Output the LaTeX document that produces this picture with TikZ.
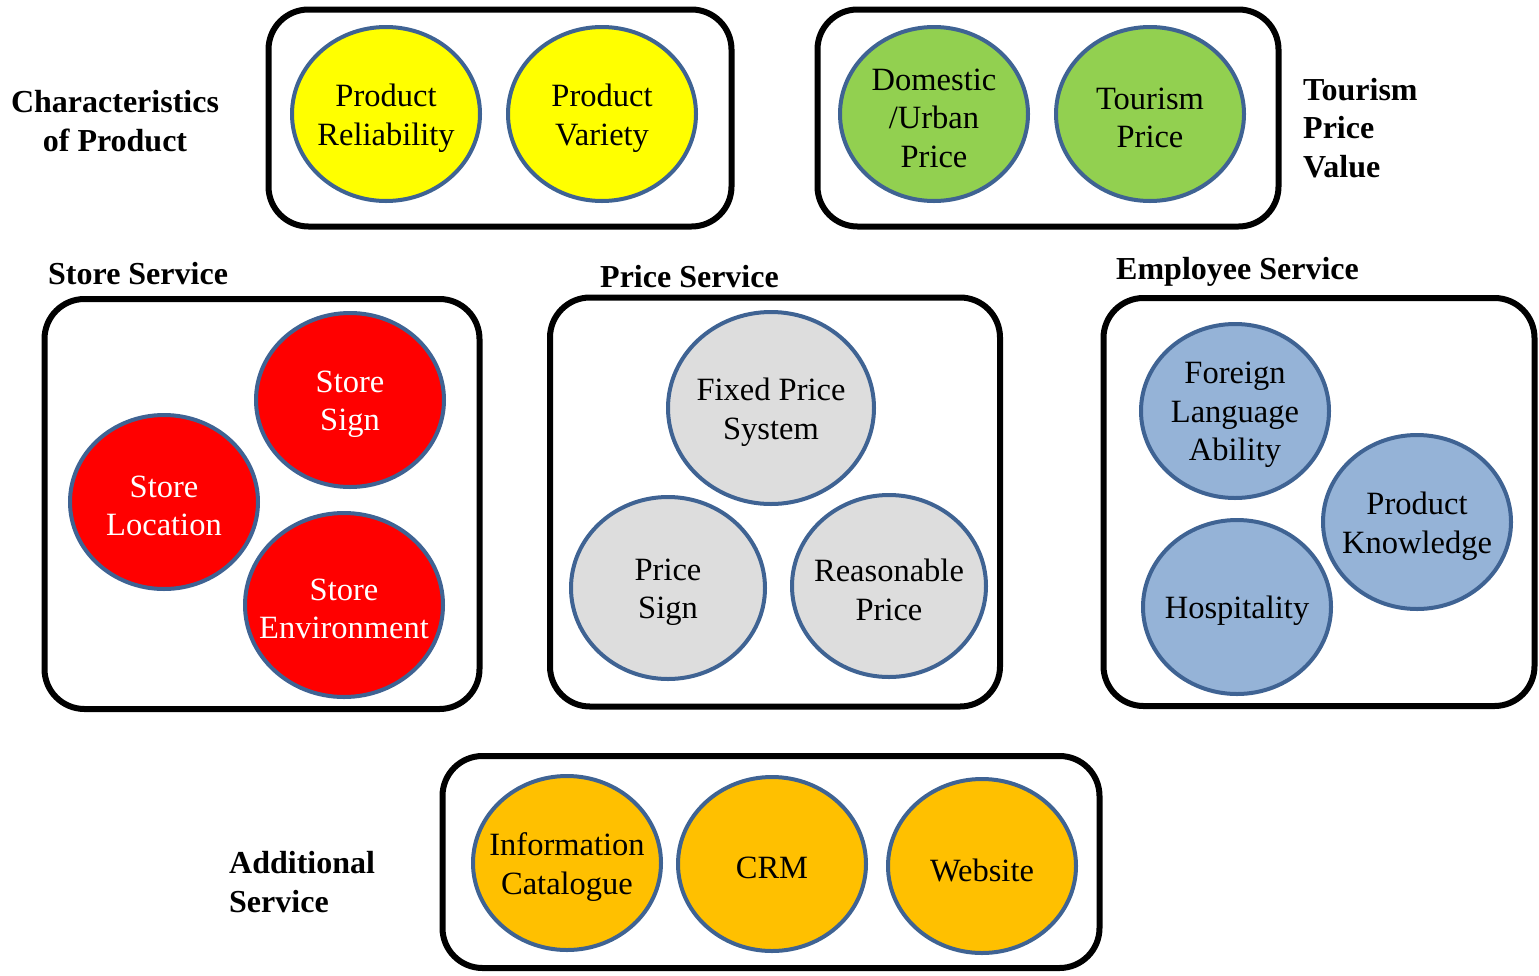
\documentclass[tikz,border=0pt]{standalone}
\usepackage{fontspec}
\setmainfont{Liberation Serif}
\usetikzlibrary{shapes.geometric}
\definecolor{rimblue}{HTML}{3F6393}
\definecolor{bYellow}{HTML}{FFFF00}
\definecolor{bGreen}{HTML}{92D050}
\definecolor{bRed}{HTML}{FF0000}
\definecolor{bGray}{HTML}{DDDDDD}
\definecolor{bBlue}{HTML}{95B3D7}
\definecolor{bAmber}{HTML}{FFC000}
\tikzset{
  grp/.style={draw=black, line width=6pt, rounded corners=40pt, inner sep=0pt},
  bub/.style={ellipse, draw=rimblue, line width=4pt, inner sep=0pt,
              minimum width=188pt, minimum height=174pt},
  txt/.style={font=\fontsize{32.5}{38.5}\selectfont, align=center, inner sep=0pt, yshift=-4pt},
  head/.style={font=\fontsize{32}{38.5}\selectfont\bfseries, inner sep=0pt},
}
\begin{document}
\begin{tikzpicture}[x=1pt, y=-1pt]
\useasboundingbox (0,0) rectangle (1539,975);

% --- Characteristics of Product ---
\node[grp, minimum width=463pt, minimum height=217pt] (gProd) at (500,118) {};
\node[bub, fill=bYellow] (cRel) at (386,114) {};
\node[txt] at (cRel) {Product\\Reliability};
\node[bub, fill=bYellow] (cVar) at (602,114) {};
\node[txt] at (cVar) {Product\\Variety};
\node[head, align=center] (lProd) at (115,121) {Characteristics\\of Product};

% --- Tourism Price Value ---
\node[grp, minimum width=461pt, minimum height=217pt] (gTour) at (1048,118) {};
\node[bub, fill=bGreen] (cDom) at (934,114) {};
\node[txt] at (cDom) {Domestic\\/Urban\\Price};
\node[bub, fill=bGreen] (cTp) at (1150,114) {};
\node[txt] at (cTp) {Tourism\\Price};
\node[head, align=left, anchor=west] (lTour) at (1303,128) {Tourism\\Price\\Value};

% --- Store Service ---
\node[head, anchor=west] (lStore) at (48,274) {Store Service};
\node[grp, minimum width=435pt, minimum height=410pt] (gStore) at (262,504) {};
\node[bub, fill=bRed] (cSign) at (350,400) {};
\node[txt, text=white] at (cSign) {Store\\Sign};
\node[bub, fill=bRed] (cLoc) at (164,502) {};
\node[txt, text=white] at (cLoc) {Store\\Location};
\node[bub, fill=bRed, minimum width=198pt, minimum height=184pt] (cEnv) at (344,605) {};
\node[txt, text=white] at (cEnv) {Store\\Environment};

% --- Price Service ---
\node[head, anchor=west] (lPrice) at (600,277) {Price Service};
\node[grp, minimum width=450pt, minimum height=409pt] (gPrice) at (775,502) {};
\node[bub, fill=bGray, minimum width=206pt, minimum height=192pt] (cFix) at (771,408) {};
\node[txt] at (cFix) {Fixed Price\\System};
\node[bub, fill=bGray, minimum width=194pt, minimum height=182pt] (cPs) at (668,588) {};
\node[txt] at (cPs) {Price\\Sign};
\node[bub, fill=bGray, minimum width=194pt, minimum height=182pt] (cRp) at (889,586) {};
\node[txt] at (cRp) {Reasonable\\Price};

% --- Employee Service ---
\node[head, anchor=west] (lEmp) at (1116,272) {Employee Service};
\node[grp, minimum width=431pt, minimum height=408pt] (gEmp) at (1319,502) {};
\node[bub, fill=bBlue] (cFor) at (1235,411) {};
\node[txt] at (cFor) {Foreign\\Language\\Ability};
\node[bub, fill=bBlue] (cKno) at (1417,522) {};
\node[txt] at (cKno) {Product\\Knowledge};
\node[bub, fill=bBlue] (cHos) at (1237,607) {};
\node[txt] at (cHos) {Hospitality};

% --- Additional Service ---
\node[grp, minimum width=657pt, minimum height=212pt] (gAdd) at (771,862) {};
\node[bub, fill=bAmber] (cInf) at (567,863) {};
\node[txt] at (cInf) {Information\\Catalogue};
\node[bub, fill=bAmber] (cCrm) at (772,864) {};
\node[txt] at (cCrm) {CRM};
\node[bub, fill=bAmber] (cWeb) at (982,866) {};
\node[txt] at (cWeb) {Website};
\node[head, align=left, anchor=west] (lAdd) at (229,882) {Additional\\Service};
\end{tikzpicture}
\end{document}
